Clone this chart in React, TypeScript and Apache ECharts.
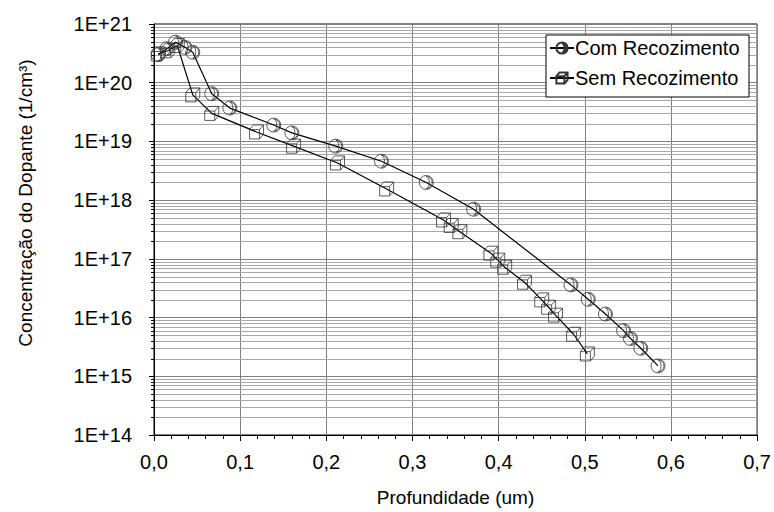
import React, { useEffect, useRef } from "react";
import * as echarts from "echarts";

const seriesNames = ["Com Recozimento", "Sem Recozimento"];

const comDepth = [0.005, 0.015, 0.025, 0.036, 0.045, 0.067, 0.088, 0.139, 0.16, 0.211, 0.264, 0.316, 0.371, 0.484, 0.504, 0.524, 0.545, 0.553, 0.565, 0.585];
const comConc = [3.0e20, 3.8e20, 4.9e20, 4.0e20, 3.3e20, 6.5e19, 3.7e19, 1.9e19, 1.4e19, 8.3e18, 4.6e18, 2.0e18, 7.0e17, 3.6e16, 2.05e16, 1.15e16, 6.0e15, 4.4e15, 3.0e15, 1.5e15];

const semDepth = [0.005, 0.016, 0.027, 0.045, 0.067, 0.119, 0.162, 0.213, 0.27, 0.336, 0.345, 0.355, 0.391, 0.399, 0.407, 0.43, 0.45, 0.458, 0.466, 0.487, 0.503];
const semConc = [3.1e20, 3.5e20, 4.3e20, 6.2e19, 3.0e19, 1.45e19, 8.3e18, 4.3e18, 1.55e18, 4.6e17, 3.7e17, 2.9e17, 1.25e17, 9.5e16, 7.2e16, 4.0e16, 2.0e16, 1.5e16, 1.1e16, 5.2e15, 2.4e15];

const decadeExponents = [14, 15, 16, 17, 18, 19, 20];
const minorMultipliers = [2, 3, 4, 5, 6, 7, 8, 9];

const xTitle = "Profundidade (um)";
const yTitle = "Concentração do Dopante (1/cm³)";

const FONT = "'Liberation Sans', Arial, sans-serif";

export default function App() {
  const ref = useRef<HTMLDivElement>(null);
  useEffect(() => {
    if (!ref.current) return;
    const chart = echarts.init(ref.current, null, { renderer: "svg" });
    const minorValues: number[][] = [];
    decadeExponents.forEach((e) => {
      minorMultipliers.forEach((m) => minorValues.push([0, m * Math.pow(10, e)]));
    });
    const squarePath =
      "path://M0,5 L10,5 L10,15 L0,15 Z M0,5 L4,0 L14,0 L14,10 L10,15 M10,5 L14,0";
    const circlePath =
      "path://M14,7 A7,7 0 1 1 0,7 A7,7 0 1 1 14,7 Z M7,1 A6,6 0 0 1 7,13 A3,6 0 0 0 7,1 Z";
    const option: any = {
      animation: false,
      backgroundColor: "#fff",
      textStyle: { fontFamily: FONT },
      grid: {
        left: 154,
        top: 24,
        width: 604,
        height: 411,
        show: true,
        borderColor: "#000",
        borderWidth: 1,
        backgroundColor: "transparent",
      },
      legend: {
        data: seriesNames,
        orient: "vertical",
        left: 549,
        top: 38,
        itemWidth: 24,
        itemHeight: 14,
        itemGap: 10,
        padding: 0,
        z: 20,
        textStyle: { fontFamily: FONT, fontSize: 20, color: "#000", padding: [0, 0, 0, -4] },
      },
      graphic: [
        {
          type: "rect",
          shape: { x: 546, y: 35, width: 203, height: 62 },
          style: { fill: "#fff", stroke: "#000", lineWidth: 1 },
          z: 15,
        },
        {
          type: "text",
          x: 25,
          y: 203,
          rotation: Math.PI / 2,
          style: {
            text: yTitle,
            fontFamily: FONT,
            fontSize: 19,
            fill: "#000",
            align: "center",
            verticalAlign: "middle",
          },
        },
      ],
      xAxis: {
        type: "value",
        min: 0,
        max: 0.7,
        interval: 0.1,
        name: xTitle,
        nameLocation: "middle",
        nameGap: 53,
        nameTextStyle: { fontFamily: FONT, fontSize: 19, color: "#000" },
        axisLine: { show: true, lineStyle: { color: "#000", width: 1 } },
        axisTick: { show: true, inside: false, length: 6, lineStyle: { color: "#000" } },
        minorTick: { show: true, splitNumber: 5, length: 4, lineStyle: { color: "#000" } },
        axisLabel: {
          fontFamily: FONT,
          fontSize: 20,
          color: "#000",
          margin: 17,
          formatter: (v: number) => v.toFixed(1).replace(".", ","),
        },
        splitLine: { show: true, lineStyle: { color: "#808080", width: 1 } },
      },
      yAxis: {
        type: "log",
        logBase: 10,
        min: 1e14,
        max: 1e21,
        axisLine: { show: true, lineStyle: { color: "#000", width: 1 } },
        axisTick: { show: true, inside: false, length: 5, lineStyle: { color: "#000" } },
        axisLabel: {
          fontFamily: FONT,
          fontSize: 20,
          color: "#000",
          margin: 22,
          formatter: (v: number) => "1E+" + Math.round(Math.log10(v)),
        },
        splitLine: { show: true, lineStyle: { color: "#808080", width: 1 } },
      },
      series: [
        {
          type: "custom",
          silent: true,
          clip: false,
          z: 1,
          data: minorValues,
          renderItem: (params: any, api: any) => {
            const v = api.value(1);
            const p0 = api.coord([0, v]);
            const p1 = api.coord([0.7, v]);
            const y = Math.round(p0[1]) + 0.5;
            return {
              type: "group",
              children: [
                {
                  type: "line",
                  shape: { x1: p0[0] - 3, y1: y, x2: p0[0], y2: y },
                  style: { stroke: "#000", lineWidth: 1 },
                },
                {
                  type: "line",
                  shape: { x1: p0[0] + 1, y1: y, x2: p1[0], y2: y },
                  style: { stroke: "#a8a8a8", lineWidth: 1 },
                },
              ],
            };
          },
        },
        {
          name: seriesNames[0],
          type: "line",
          z: 5,
          data: comDepth.map((d, i) => [d, comConc[i]]),
          symbol: circlePath,
          symbolSize: 14,
          showAllSymbol: true,
          lineStyle: { color: "#000", width: 1.2 },
          itemStyle: { color: "rgba(255,255,255,0)", borderColor: "#333", borderWidth: 0.8 },
        },
        {
          name: seriesNames[1],
          type: "line",
          z: 5,
          data: semDepth.map((d, i) => [d, semConc[i]]),
          symbol: squarePath,
          symbolSize: [14, 14],
          showAllSymbol: true,
          lineStyle: { color: "#000", width: 1.2 },
          itemStyle: { color: "rgba(255,255,255,0)", borderColor: "#333", borderWidth: 0.8 },
        },
      ],
    };
    chart.setOption(option);
    return () => chart.dispose();
  }, []);
  return (
    <div
      ref={ref}
      style={{ position: "fixed", left: 0, top: 0, width: 774, height: 512, background: "#fff" }}
    />
  );
}
